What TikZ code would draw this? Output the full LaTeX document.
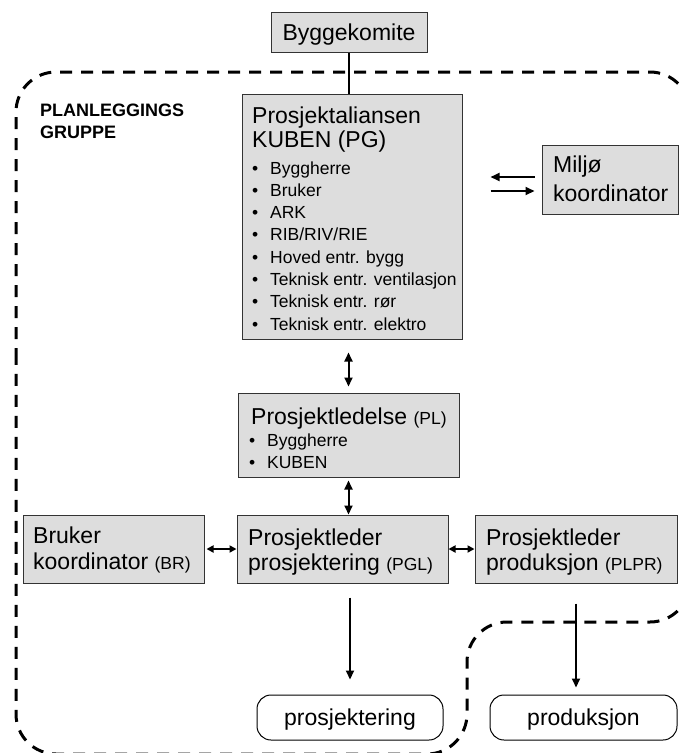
\documentclass[tikz,border=0pt]{standalone}
\usepackage{fontspec}
\setmainfont{Liberation Sans}
\usetikzlibrary{arrows.meta,calc}
\definecolor{boxgray}{RGB}{221,221,221}
\newcommand{\titlesize}{\fontsize{23}{27}\selectfont}
\newcommand{\itemsize}{\fontsize{17.5}{21}\selectfont}
\newcommand{\headsize}{\fontsize{18}{21}\selectfont\bfseries}
\begin{document}
\begin{tikzpicture}[x=1pt,y=-1pt,
  box/.style={rectangle, draw=black!80, line width=1pt, fill=boxgray, inner sep=0pt},
  endbox/.style={rectangle, rounded corners=14pt, draw=black, line width=1pt, fill=white,
    inner sep=0pt, minimum height=45pt, text height=16.5pt, text depth=0pt, font=\titlesize},
  title/.style={inner sep=0pt, anchor=base west, font=\titlesize},
  bullet/.style={inner sep=0pt, anchor=base west, font=\itemsize},
  heading/.style={inner sep=0pt, anchor=base west, font=\headsize},
  groupline/.style={line width=3pt, dash pattern=on 12pt off 9pt, rounded corners=40pt},
  link/.style={line width=2pt, -{Triangle[length=9pt,width=8pt]}},
  dlink/.style={line width=2pt, {Triangle[length=9pt,width=8pt]}-{Triangle[length=9pt,width=8pt]}},
  slink/.style={line width=2pt, {Triangle[length=7pt,width=7pt]}-{Triangle[length=7pt,width=7pt]}}
]
\clip (0,0) rectangle (680,753);
\fill[white] (0,0) rectangle (680,753);

% planning group outline
\draw[groupline] (16,400) -- (16,72) -- (690,72) -- (690,622) -- (467,622)
  -- (467,754) -- (16,754) -- cycle;
\node[heading] (hd1) at (40,116) {PLANLEGGINGS};
\node[heading] (hd2) at (40,138) {GRUPPE};

% boxes
\node[box, minimum width=156pt, minimum height=40pt, text height=16.5pt, text depth=0pt,
  font=\titlesize] (BK) at (349,32) {Byggekomite};
\node[box, minimum width=220pt, minimum height=245pt] (PG) at (352,216.5) {};
\node[box, minimum width=136pt, minimum height=69pt] (Mil) at (610,179.5) {};
\node[box, minimum width=221pt, minimum height=84pt] (PL) at (348.5,435) {};
\node[box, minimum width=181pt, minimum height=68pt] (BR) at (113.5,549) {};
\node[box, minimum width=211pt, minimum height=68pt] (PGL) at (342.5,549) {};
\node[box, minimum width=202pt, minimum height=68pt] (PLPR) at (576,549) {};
\node[endbox, minimum width=186pt] (PRJ) at (350,717.5) {prosjektering};
\node[endbox, minimum width=187pt] (PRD) at (583.5,717.5) {produksjon};

% texts in the boxes
\node[title] (pgT1) at (252,123) {Prosjektaliansen};
\node[title] (pgT2) at (252,147) {KUBEN (PG)};
\foreach \t [count=\i] in {Byggherre, Bruker, ARK, RIB/RIV/RIE, Hoved entr. bygg,
    Teknisk entr. ventilasjon, Teknisk entr. rør, Teknisk entr. elektro}
  \node[bullet] (pgI\i) at (252,{174+22.3*(\i-1)}) {\makebox[18pt][l]{\textbullet}\t};

\node[title] (milT1) at (553,172) {Miljø};
\node[title] (milT2) at (553,201) {koordinator};

\node[title] (plT1) at (251,424) {Prosjektledelse {\itemsize (PL)}};
\node[bullet] (plI1) at (249,446) {\makebox[18pt][l]{\textbullet}Byggherre};
\node[bullet] (plI2) at (249,468) {\makebox[18pt][l]{\textbullet}KUBEN};

\node[title] (brT1) at (33,543) {Bruker};
\node[title] (brT2) at (33,569) {koordinator {\itemsize (BR)}};
\node[title] (pglT1) at (248,545) {Prosjektleder};
\node[title] (pglT2) at (248,570) {prosjektering {\itemsize (PGL)}};
\node[title] (plprT1) at (486,545) {Prosjektleder};
\node[title] (plprT2) at (486,570) {produksjon {\itemsize (PLPR)}};

% connectors
\draw[line width=2.5pt] (BK.south) -- (BK.south |- PG.north);
\draw[dlink, shorten <=13pt, shorten >=6pt] (PG.south -| PL.north) -- (PL.north);
\draw[dlink, shorten <=3pt] (PL.south) -- (PL.south |- PGL.north);
\draw[slink, shorten <=2pt] (BR.east) -- (PGL.west);
\draw[slink] (PGL.east) -- (PLPR.west);
\draw[link, shorten <=7pt, shorten >=28pt] ($(Mil.west)+(0,-2.5)$) -- ($(Mil.west -| PG.east)+(0,-2.5)$);
\draw[link, shorten <=28pt, shorten >=7pt] ($(Mil.west -| PG.east)+(0,11.5)$) -- ($(Mil.west)+(0,11.5)$);
\draw[link, shorten <=14pt, shorten >=15pt] (PGL.south -| PRJ.north) -- (PRJ.north);
\draw[link, shorten <=20pt, shorten >=7pt] (PLPR.south) -- (PLPR.south |- PRD.north);
\end{tikzpicture}
\end{document}
